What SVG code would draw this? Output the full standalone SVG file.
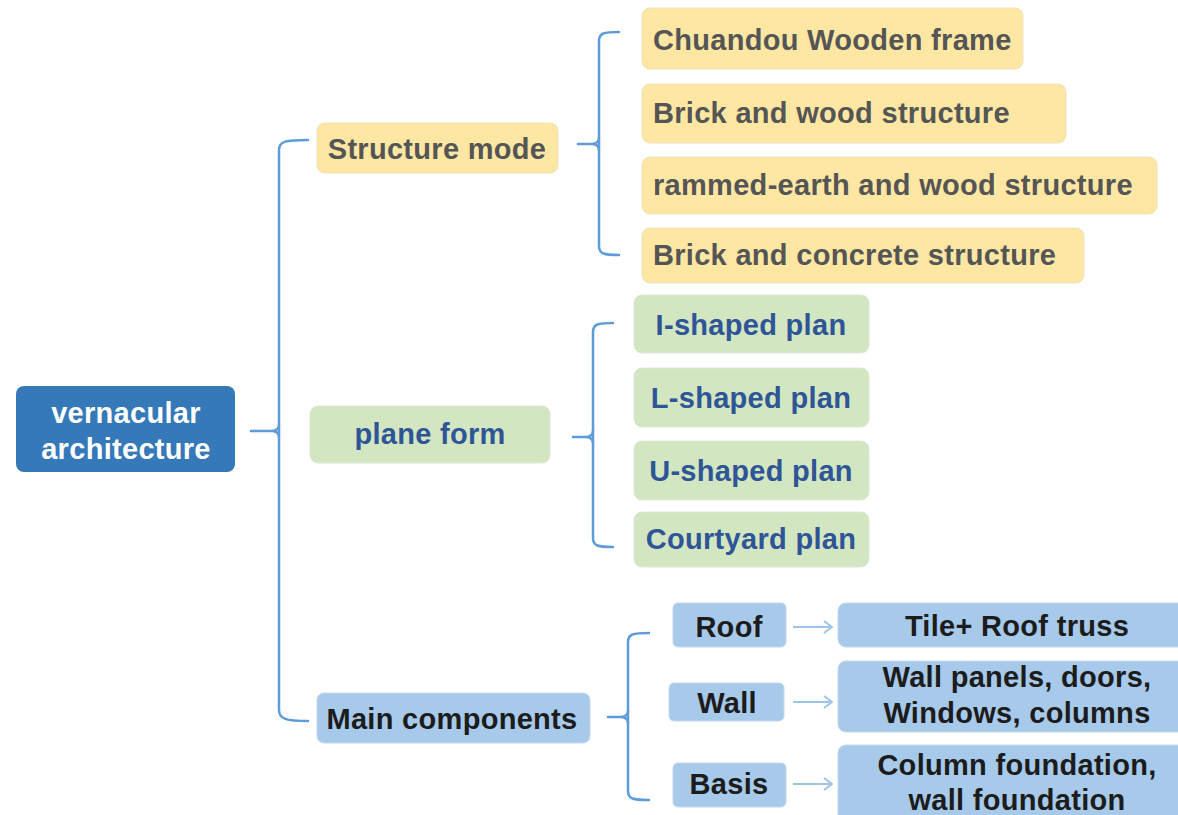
<svg xmlns="http://www.w3.org/2000/svg" width="1178" height="815" viewBox="0 0 1178 815">
<defs>
<style>
text{font-family:"Liberation Sans",Arial,sans-serif;font-weight:bold;font-size:29px;letter-spacing:0.3px}
.root rect{fill:#3579b8}
.root text{fill:#ffffff;text-anchor:middle}
.y rect{fill:#fde7a3;stroke:#efe2bd;stroke-width:1}
.y text{fill:#555555}
.g rect{fill:#d1e6c1;stroke:#dfe8d8;stroke-width:1}
.g text{fill:#2f5597;text-anchor:middle}
.b rect{fill:#a7c9ea;stroke:#c5d8ea;stroke-width:1}
.b text{fill:#1c1c1c;text-anchor:middle}
.br{fill:none;stroke:#5d9cd8;stroke-width:2.5;stroke-linecap:round}
.ar{fill:none;stroke:#9ec4e8;stroke-width:2.2}
</style>
<marker id="chev" viewBox="0 0 10 14" refX="9" refY="7" markerWidth="10" markerHeight="14" markerUnits="userSpaceOnUse" orient="auto">
<path d="M1,1 L9,7 L1,13" fill="none" stroke="#9ec4e8" stroke-width="2"/>
</marker>
</defs>
<rect width="1178" height="815" fill="#ffffff"/>

<g id="connectors">
<path class="br" d="M308,140 C286,140 279,141 279,150 L279,710 C279,719 286,721 308,721"/>
<path class="br" d="M251,431 L271,431 C276,431 279,429 279,425 M271,431 C276,431 279,433 279,437"/>
<path class="br" d="M619,32 C604,32 599,33 599,41 L599,246 C599,254 604,255 619,255"/>
<path class="br" d="M578,144 L591,144 C596,144 599,142 599,138 M591,144 C596,144 599,146 599,150"/>
<path class="br" d="M613,323 C598,323 593,324 593,332 L593,538 C593,546 598,547 613,547"/>
<path class="br" d="M573,437 L585,437 C590,437 593,435 593,431 M585,437 C590,437 593,439 593,443"/>
<path class="br" d="M649,633 C633,633 628,634 628,642 L628,791 C628,799 633,800 649,800"/>
<path class="br" d="M608,717 L620,717 C625,717 628,715 628,711 M620,717 C625,717 628,719 628,723"/>
<line class="ar" x1="793" y1="627" x2="832" y2="627" marker-end="url(#chev)"/>
<line class="ar" x1="793" y1="702" x2="832" y2="702" marker-end="url(#chev)"/>
<line class="ar" x1="793" y1="784" x2="832" y2="784" marker-end="url(#chev)"/>
</g>

<g id="root" class="root">
<rect x="16" y="386" width="219" height="86" rx="8"/>
<text x="126" y="423">vernacular</text>
<text x="126" y="459">architecture</text>
</g>

<g id="structure-mode" class="y">
<rect x="317" y="123" width="241" height="50" rx="8"/>
<text x="437" y="159" style="text-anchor:middle">Structure mode</text>
</g>
<g id="chuandou" class="y">
<rect x="642" y="8" width="381" height="61" rx="8"/>
<text x="653" y="50">Chuandou Wooden frame</text>
</g>
<g id="brick-wood" class="y">
<rect x="642" y="84" width="424" height="59" rx="8"/>
<text x="653" y="123">Brick and wood structure</text>
</g>
<g id="rammed-earth" class="y">
<rect x="642" y="157" width="515" height="57" rx="8"/>
<text x="653" y="195">rammed-earth and wood structure</text>
</g>
<g id="brick-concrete" class="y">
<rect x="642" y="228" width="442" height="55" rx="8"/>
<text x="653" y="265">Brick and concrete structure</text>
</g>

<g id="plane-form" class="g">
<rect x="310" y="406" width="240" height="57" rx="8"/>
<text x="430" y="444">plane form</text>
</g>
<g id="i-shaped" class="g">
<rect x="634" y="295" width="235" height="58" rx="8"/>
<text x="751" y="335">I-shaped plan</text>
</g>
<g id="l-shaped" class="g">
<rect x="634" y="368" width="235" height="59" rx="8"/>
<text x="751" y="408">L-shaped plan</text>
</g>
<g id="u-shaped" class="g">
<rect x="634" y="441" width="235" height="59" rx="8"/>
<text x="751" y="481">U-shaped plan</text>
</g>
<g id="courtyard" class="g">
<rect x="634" y="512" width="235" height="55" rx="8"/>
<text x="751" y="549">Courtyard plan</text>
</g>

<g id="main-components" class="b">
<rect x="317" y="693" width="273" height="50" rx="7"/>
<text x="452" y="729">Main components</text>
</g>
<g id="roof" class="b">
<rect x="673" y="603" width="113" height="44" rx="5"/>
<text x="729" y="637">Roof</text>
</g>
<g id="wall" class="b">
<rect x="669" y="683" width="115" height="38" rx="5"/>
<text x="727" y="713">Wall</text>
</g>
<g id="basis" class="b">
<rect x="673" y="763" width="113" height="44" rx="5"/>
<text x="729" y="794">Basis</text>
</g>
<g id="tile" class="b">
<rect x="838" y="603" width="360" height="44" rx="8"/>
<text x="1017" y="636">Tile+ Roof truss</text>
</g>
<g id="wall-panels" class="b">
<rect x="838" y="661" width="360" height="71" rx="8"/>
<text x="1017" y="687">Wall panels, doors,</text>
<text x="1017" y="723">Windows, columns</text>
</g>
<g id="column-foundation" class="b">
<rect x="838" y="745" width="360" height="90" rx="8"/>
<text x="1017" y="775">Column foundation,</text>
<text x="1017" y="810">wall foundation</text>
</g>
</svg>
